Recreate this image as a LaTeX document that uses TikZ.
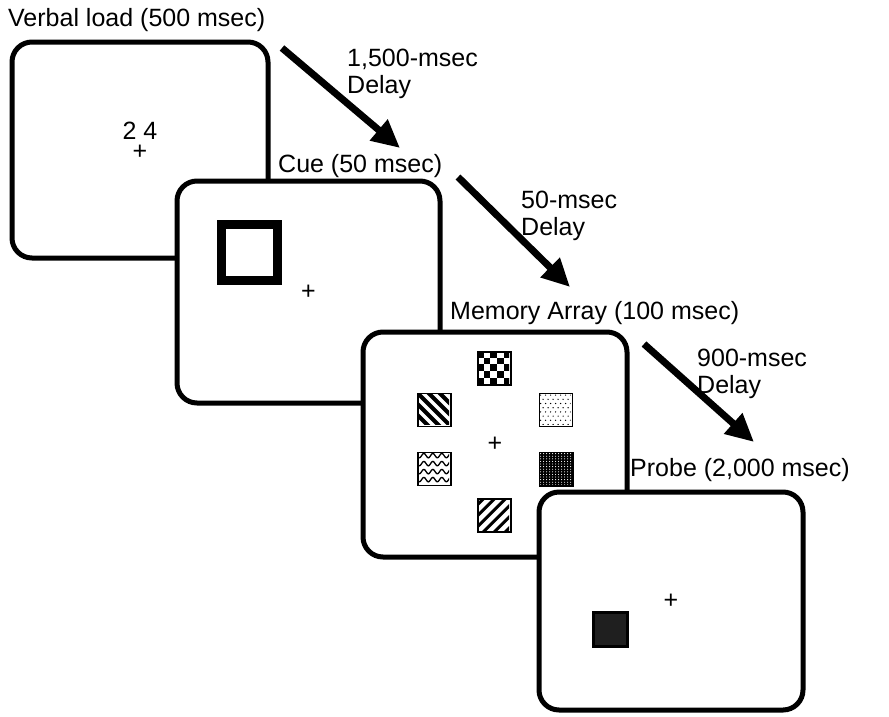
\documentclass[tikz,border=0pt]{standalone}
\usepackage{fontspec}
\setmainfont{Liberation Sans}
\usetikzlibrary{positioning,arrows.meta}

\begin{document}
\begin{tikzpicture}[x=1pt,y=-1pt,
	screen/.style={draw, line width=5pt, rounded corners=20pt, fill=white, inner sep=0pt},
	lbl/.style={font=\fontsize{25}{26.5}\selectfont, inner sep=0pt},
	go/.style={line width=7pt, -{Triangle[length=28pt,width=26pt]}},
	tile/.style={draw, line width=1.8pt, fill=white, minimum size=33pt, inner sep=0pt}]
	\useasboundingbox (0,0) rectangle (889,716);
	
	% ---------------------- four screens, later ones on top ----------------------
	\node (verbal) [screen, minimum width=256pt, minimum height=216pt] at (140,150) {};
	\node (cue)    [screen, minimum width=263pt, minimum height=222pt] at (308.5,292) {};
	\node (memory) [screen, minimum width=264pt, minimum height=225pt] at (495,444.5) {};
	\node (probe)  [screen, minimum width=264pt, minimum height=218pt] at (671,601) {};
	
	% fixation crosses sit in the middle of each screen
	\node (fix1) [lbl] at ([yshift=-2pt]verbal.center) {+};
	\node (fix2) [lbl] at (cue.center) {+};
	\node (fix3) [lbl] at (memory.center) {+};
	\node (fix4) [lbl] at (probe.center) {+};
	
	\node (digits) [lbl, above=5pt of fix1] {2 4};
	\node (cuebox) [draw, line width=9pt, minimum size=56pt, inner sep=0pt] at (249.5,252.5) {};
	\node (target) [draw, line width=3pt, fill=black!88, minimum size=34pt, inner sep=0pt] at (610.5,629) {};
	
	% ---------------------- memory array tiles ----------------------
	\node (tchk)  [tile] at (494.5,368.5) {}; % checkerboard
	\node (tback) [tile] at (434.5,410) {};   % stripes falling right
	\node (tdot)  [tile] at (556,410) {};     % sparse dots
	\node (twave) [tile] at (434.5,469) {};   % waves
	\node (tdark) [tile, fill=black] at (556.5,469.5) {}; % dense dark dots
	\node (tfwd)  [tile] at (494.5,515.5) {}; % stripes rising right
	
	% fill patterns, clipped to the inside of each tile (0,0 = top left)
	\begin{scope}[shift={(tchk.north west)}]
		\clip (0.9,0.9) rectangle (32.1,32.1);
		\foreach \i in {0,...,4} \foreach \j in {0,...,4} {
			\pgfmathtruncatemacro{\odd}{mod(\i+\j,2)}
			\ifnum\odd=0 \fill (\i*6.6,\j*6.6) rectangle ++(6.6,6.6); \fi
		}
	\end{scope}
	\begin{scope}[shift={(tback.north west)}]
		\clip (0.9,0.9) rectangle (32.1,32.1);
		\foreach \c in {-44,-33,...,44}
			\draw[line width=4pt] (\c-5,-5) -- (\c+45,45);
	\end{scope}
	\begin{scope}[shift={(tdot.north west)}]
		\clip (0.9,0.9) rectangle (32.1,32.1);
		\foreach \i in {0,...,7} \foreach \j in {0,...,7} {
			\pgfmathsetmacro{\off}{mod(\j,2)*2.5}
			\fill (\i*5+2+\off,\j*4.2+2.5) circle (0.7pt);
		}
	\end{scope}
	\begin{scope}[shift={(twave.north west)}]
		\clip (0.9,0.9) rectangle (32.1,32.1);
		\foreach \k in {4,12,20,28}
			\draw[line width=1.3pt] plot[domain=-2:36, samples=50] (\x, {\k+2.2*sin(\x*40)});
	\end{scope}
	\begin{scope}[shift={(tdark.north west)}]
		\clip (0.9,0.9) rectangle (32.1,32.1);
		\foreach \i in {0,...,10} \foreach \j in {0,...,12}
			\fill[white] (\i*3+1.5,\j*2.6+1.5) circle (0.55pt);
	\end{scope}
	\begin{scope}[shift={(tfwd.north west)}]
		\clip (0.9,0.9) rectangle (32.1,32.1);
		\foreach \c in {-4,7,...,80}
			\draw[line width=3pt] (\c+5,-5) -- (\c-45,45);
	\end{scope}
	
	% ---------------------- labels ----------------------
	\node (tverbal) [lbl, anchor=base west] at (8,26) {Verbal load (500 msec)};
	\node (tcue)    [lbl, anchor=base west] at (278,172) {Cue (50 msec)};
	\node (tmemory) [lbl, anchor=base west] at (450,319) {Memory Array (100 msec)};
	\node (tprobe)  [lbl, anchor=base west] at (630,476) {Probe (2,000 msec)};
	\node (delay1) [lbl, align=left, anchor=north west] at (347,49) {1,500-msec\\Delay};
	\node (delay2) [lbl, align=left, anchor=north west] at (521,191) {50-msec\\Delay};
	\node (delay3) [lbl, align=left, anchor=north west] at (697,349) {900-msec\\Delay};
	
	% ---------------------- delay arrows ----------------------
	\coordinate (a1s) at (282,48);  \coordinate (a1e) at (400,148);
	\coordinate (a2s) at (458,177); \coordinate (a2e) at (570,287);
	\coordinate (a3s) at (644,344); \coordinate (a3e) at (754,442);
	\draw[go] (a1s) -- (a1e);
	\draw[go] (a2s) -- (a2e);
	\draw[go] (a3s) -- (a3e);
\end{tikzpicture}
\end{document}
